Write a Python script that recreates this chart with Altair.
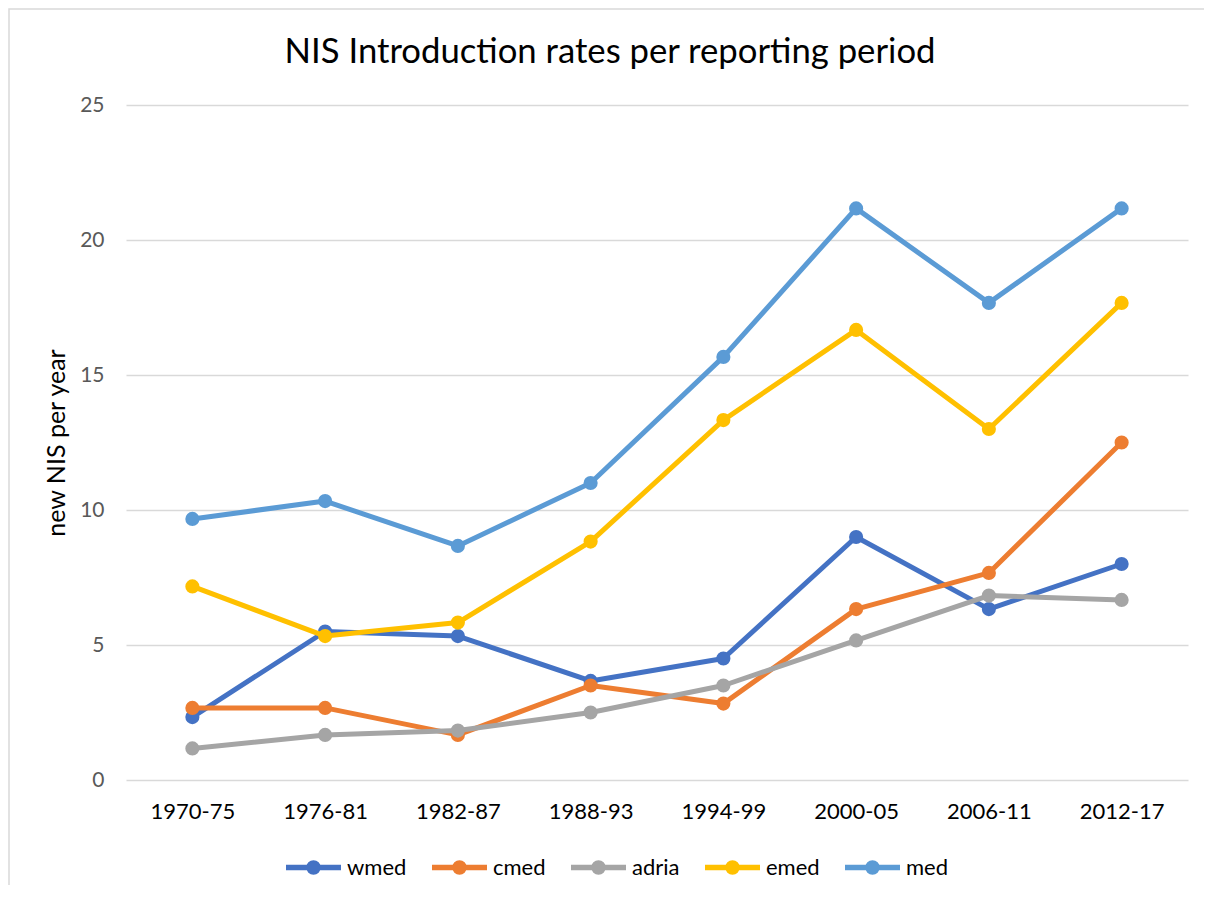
import altair as alt
import pandas as pd

periods = ["1970-75", "1976-81", "1982-87", "1988-93", "1994-99", "2000-05", "2006-11", "2012-17"]
series_names = ["wmed", "cmed", "adria", "emed", "med"]
wmed = [2.33, 5.5, 5.33, 3.67, 4.5, 9.0, 6.33, 8.0]
cmed = [2.67, 2.67, 1.67, 3.5, 2.83, 6.33, 7.67, 12.5]
adria = [1.17, 1.67, 1.83, 2.5, 3.5, 5.17, 6.83, 6.67]
emed = [7.17, 5.33, 5.83, 8.83, 13.33, 16.67, 13.0, 17.67]
med = [9.67, 10.33, 8.67, 11.0, 15.67, 21.17, 17.67, 21.17]
colors = ["#4472C4", "#ED7D31", "#A5A5A5", "#FFC000", "#5B9BD5"]
y_ticks = [0, 5, 10, 15, 20, 25]

values_by_series = {"wmed": wmed, "cmed": cmed, "adria": adria, "emed": emed, "med": med}
rows = []
for s in series_names:
    for p, v in zip(periods, values_by_series[s]):
        rows.append({"period": p, "series": s, "value": v})
df = pd.DataFrame(rows)

FONT = "Lato"

legend_path = (
    "M -1 0 L 1 0 "
    "M 0.1636 0 A 0.1636 0.1636 0 1 1 -0.1636 0 A 0.1636 0.1636 0 1 1 0.1636 0 "
    "M 0.0545 0 A 0.0545 0.0545 0 1 1 -0.0545 0 A 0.0545 0.0545 0 1 1 0.0545 0"
)

x_enc = alt.X(
    "period:N",
    sort=periods,
    scale=alt.Scale(domain=periods),
    axis=alt.Axis(title=None, labelAngle=0, labelFont=FONT, labelFontSize=22,
                  labelColor="#000000", labelPadding=21, ticks=False, domain=False, grid=False),
)
y_enc = alt.Y(
    "value:Q",
    scale=alt.Scale(domain=[0, 25], nice=False, zero=True),
    axis=alt.Axis(values=y_ticks, title="new NIS per year", labelFont=FONT, labelFontSize=21,
                  labelColor="#595959", labelPadding=22, ticks=False, domain=False,
                  grid=True, gridColor="#d9d9d9", gridWidth=1.5,
                  titleFont=FONT, titleFontSize=25, titleFontWeight="normal", titleColor="#000000",
                  titleX=-70, titleY=337.5, titleAngle=270, titleAlign="center", titleBaseline="middle"),
)
color_enc = alt.Color(
    "series:N",
    scale=alt.Scale(domain=series_names, range=colors),
    legend=alt.Legend(title=None, orient="none", legendX=157, legendY=732, direction="horizontal",
                      columns=5, symbolType=legend_path, symbolSize=3025, symbolStrokeWidth=5.5,
                      symbolOpacity=1, labelFont=FONT, labelFontSize=22, labelColor="#000000",
                      labelOffset=3, columnPadding=14, padding=0),
)

frame = alt.Chart(alt.Data(values=[{"a": 1}])).mark_rect(
    fill="transparent", stroke="#d9d9d9", strokeWidth=1.5
).encode(x=alt.value(-117), x2=alt.value(1300), y=alt.value(-96), y2=alt.value(900))

layers = [frame]
for s in series_names:
    base = alt.Chart(df).transform_filter(alt.datum.series == s).encode(x=x_enc, y=y_enc, color=color_enc)
    layers.append(base.mark_line(strokeWidth=5, strokeCap="round", strokeJoin="round"))
    layers.append(base.mark_point(filled=True, size=200, opacity=1))

chart = alt.layer(*layers).properties(
    width=1062,
    height=675,
    autosize=alt.AutoSizeParams(type="none"),
    padding={"left": 118, "top": 97, "right": 16, "bottom": 105},
    title=alt.TitleParams(
        text="NIS Introduction rates per reporting period",
        font=FONT, fontSize=34.7, fontWeight="normal", color="#000000",
        anchor="middle", frame="group", dx=-47, offset=0, dy=89, baseline="alphabetic",
    ),
).configure_view(stroke=None)

chart.save("out.html", embed_options={"renderer": "svg", "actions": False})
